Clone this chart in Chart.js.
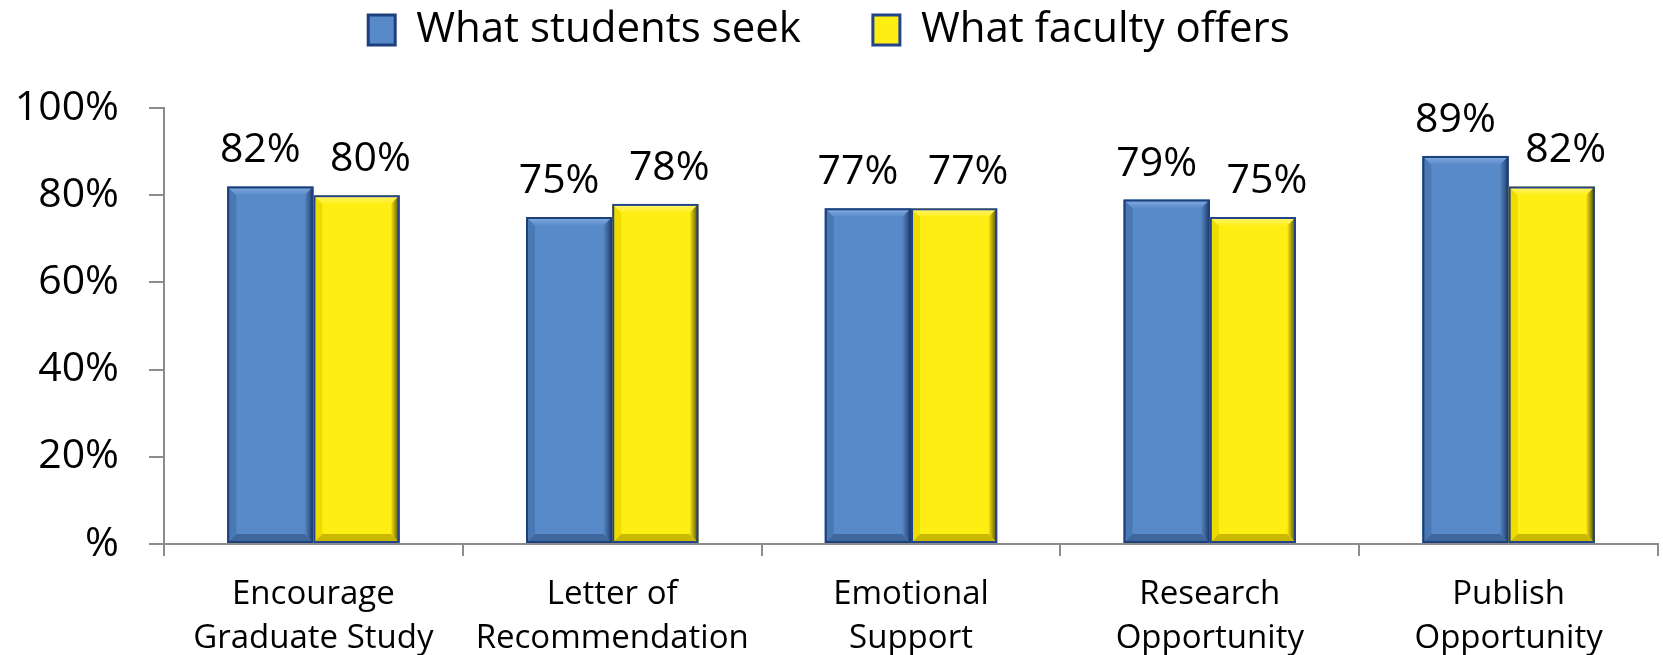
<!DOCTYPE html>
<html>
<head>
<meta charset="utf-8">
<script src="https://cdn.jsdelivr.net/npm/chart.js@4.4.1/dist/chart.umd.min.js"></script>
<style>
  html, body { margin: 0; padding: 0; background: #fff; }
  #wrap { width: 1663px; height: 655px; }
</style>
</head>
<body>
<div id="wrap"><canvas id="chart"></canvas></div>
<script>
const categories = [
    ['Encourage', 'Graduate Study'],
    ['Letter of', 'Recommendation'],
    ['Emotional', 'Support'],
    ['Research', 'Opportunity'],
    ['Publish', 'Opportunity']
];
const seriesNames = ['What students seek', 'What faculty offers'];
const studentsSeek = [82, 75, 77, 79, 89];
const facultyOffers = [80, 78, 77, 75, 82];
const yTickValues = [0, 20, 40, 60, 80, 100];

const FONT = '"Open Sans", "Noto Sans", sans-serif';

// bevel colours per series
const shades = [
    { face: '#5889c8', top: '#86aee3', right: '#1f3a63', bottom: '#3f679e', left: '#4a78b5', border: '#1d3f7c' },
    { face: '#ffee14', top: '#fff57a', right: '#4d4400', bottom: '#c9b800', left: '#eedb00', border: '#23448a' }
];

function poly(ctx, pts, fill) {
    ctx.beginPath();
    ctx.moveTo(pts[0][0], pts[0][1]);
    for (let i = 1; i < pts.length; i++) ctx.lineTo(pts[i][0], pts[i][1]);
    ctx.closePath();
    ctx.fillStyle = fill;
    ctx.fill();
}

const bevelPlugin = {
    id: 'bevel',
    afterDatasetsDraw(chart) {
        const ctx = chart.ctx;
        chart.data.datasets.forEach((ds, i) => {
            const sh = shades[i];
            chart.getDatasetMeta(i).data.forEach(bar => {
                const l = bar.x - bar.width / 2, r = bar.x + bar.width / 2;
                const t = bar.y, b = bar.base;
                const d = 9;
                ctx.save();
                const gt = ctx.createLinearGradient(0, t, 0, t + d);
                gt.addColorStop(0, sh.top);
                gt.addColorStop(1, sh.face);
                poly(ctx, [[l, t], [r, t], [r - d, t + d], [l + d, t + d]], gt);
                const gr = ctx.createLinearGradient(r - d, 0, r, 0);
                gr.addColorStop(0, sh.face);
                gr.addColorStop(1, sh.right);
                poly(ctx, [[r, t], [r, b], [r - d, b - d], [r - d, t + d]], gr);
                poly(ctx, [[l, b], [r, b], [r - d, b - d], [l + d, b - d]], sh.bottom);
                poly(ctx, [[l, t], [l + d, t + d], [l + d, b - d], [l, b]], sh.left);
                ctx.strokeStyle = sh.border;
                ctx.lineWidth = 2;
                ctx.strokeRect(l + 1, t + 1, r - l - 2, b - t - 2);
                ctx.restore();
            });
        });
    }
};

const labelShift = [-10, 14];
const valueLabelPlugin = {
    id: 'valueLabels',
    afterDatasetsDraw(chart) {
        const ctx = chart.ctx;
        ctx.save();
        ctx.font = '41px ' + FONT;
        ctx.fillStyle = '#000';
        ctx.textAlign = 'center';
        ctx.textBaseline = 'alphabetic';
        chart.data.datasets.forEach((ds, i) => {
            chart.getDatasetMeta(i).data.forEach((bar, j) => {
                ctx.fillText(ds.data[j] + '%', bar.x + labelShift[i], bar.y - 24);
            });
        });
        ctx.restore();
    }
};

// legend sits high, with a fixed gap down to the plot
const legendHeightPlugin = {
    id: 'legendHeight',
    afterInit(chart) {
        const lg = chart.legend;
        const fit = lg.fit.bind(lg);
        lg.fit = function () {
            fit();
            this.height = 171;
        };
    }
};

new Chart(document.getElementById('chart'), {
    type: 'bar',
    data: {
        labels: categories,
        datasets: [
            { label: seriesNames[0], data: studentsSeek, backgroundColor: shades[0].face, borderWidth: 0 },
            { label: seriesNames[1], data: facultyOffers, backgroundColor: shades[1].face, borderWidth: 0 }
        ]
    },
    options: {
        responsive: true,
        maintainAspectRatio: false,
        animation: false,
        layout: { padding: { top: -63, right: 5 } },
        datasets: { bar: { categoryPercentage: 0.577, barPercentage: 1 } },
        plugins: {
            tooltip: { enabled: false },
            legend: {
                position: 'top',
                labels: {
                    font: { family: FONT, size: 42 },
                    color: '#000',
                    boxWidth: 27,
                    boxHeight: 30,
                    padding: 72,
                    generateLabels(chart) {
                        return chart.data.datasets.map((ds, i) => ({
                            text: ds.label,
                            fillStyle: shades[i].face,
                            strokeStyle: shades[i].border,
                            lineWidth: 3,
                            datasetIndex: i
                        }));
                    }
                }
            }
        },
        scales: {
            x: {
                afterFit(scale) { scale.height = 111; },
                border: { color: '#8c8c8c', width: 2 },
                grid: { display: true, drawOnChartArea: false, offset: true, tickLength: 12, color: '#8c8c8c', lineWidth: 2 },
                ticks: { color: '#000', font: { family: FONT, size: 33, lineHeight: 1.35 }, padding: 16, maxRotation: 0 }
            },
            y: {
                min: 0,
                max: 100,
                afterFit(scale) { scale.width = 164; },
                afterBuildTicks(scale) { scale.ticks = yTickValues.map(v => ({ value: v })); },
                border: { color: '#8c8c8c', width: 2 },
                grid: { display: true, drawOnChartArea: false, tickLength: 15, color: '#8c8c8c', lineWidth: 2 },
                ticks: {
                    color: '#000',
                    font: { family: FONT, size: 41 },
                    padding: 30,
                    callback: v => (v === 0 ? '%' : v + '%')
                }
            }
        }
    },
    plugins: [legendHeightPlugin, bevelPlugin, valueLabelPlugin]
});
</script>
</body>
</html>
